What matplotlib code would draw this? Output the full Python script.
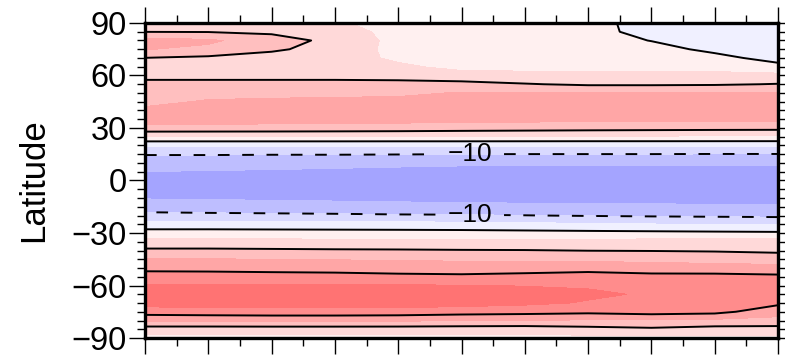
import numpy as np
import matplotlib
matplotlib.use("Agg")
import matplotlib.pyplot as plt
from matplotlib.colors import ListedColormap, BoundaryNorm
from matplotlib.ticker import MultipleLocator, NullFormatter

plt.rcParams["font.family"] = ["Liberation Sans", "DejaVu Sans"]

# grid: latitude nodes (deg) and along-axis nodes
lat_nodes = np.arange(-90, 91, 5)
x_nodes = np.arange(0, 11)

# field profiles, one per x node, latitude -90 .. 90 in 5-degree steps
profiles = [
    # x = 0
    [3.5, 7.5, 15.5, 22.5, 27, 28.5, 25.5, 22.5, 18.5, 15.5, 11, 6.5, 2.2,
     -3.0, -8.5, -12.5, -15.3, -17.5, -18, -15.05, -13, -9.7, -4.5, 5.05,
     13.5, 17, 16, 13.8, 12.5, 11.5, 8.5, 7.5, 9.9, 15.2, 17, 9.9, 7],
    # x = 1
    [3.5, 7.5, 15.5, 23, 27, 28.5, 25.5, 22.2, 18.5, 15.3, 11, 6.5, 2.2,
     -3.0, -8.8, -12.8, -15.5, -17.7, -18.2, -15.3, -13, -9.7, -4.5, 5.05,
     13.4, 17, 17.5, 15.5, 13.5, 11.5, 8.5, 7.5, 9, 14, 15.8, 9.8, 7],
    # x = 2
    [3.5, 7.5, 15.8, 23.2, 27.2, 28.5, 25.5, 22, 18.2, 14.9, 10.8, 6.4, 2.1,
     -3.1, -9.0, -13.0, -15.7, -17.8, -18.4, -15.6, -13.2, -9.8, -4.5, 5.05,
     13.3, 17, 17.5, 15.8, 13.8, 11.5, 8.5, 7.5, 8, 10.8, 12.5, 9, 7],
    # x = 3
    [3.5, 7.5, 15.8, 23.2, 27.2, 28.5, 25.3, 21.8, 18, 14.8, 10.6, 6.3, 2.0,
     -3.2, -9.2, -13.3, -15.9, -18.0, -18.6, -16.0, -13.4, -9.8, -4.4, 4.9,
     13.2, 16.8, 17.5, 16, 14, 11.5, 8.5, 7.5, 7.5, 8, 8.5, 7, 5.5],
    # x = 4
    [3.5, 7.5, 15.6, 23, 27.2, 28.5, 25.3, 21.2, 17.8, 14.5, 10.5, 6.2, 1.9,
     -3.3, -9.5, -13.6, -16.1, -18.3, -18.8, -16.5, -13.7, -9.9, -4.4, 4.8,
     13, 16.6, 17.5, 16.2, 14.2, 11.5, 8.2, 6, 4, 3.5, 3.5, 3.5, 3.5],
    # x = 5
    [3.5, 7.3, 15.2, 22.2, 27, 28.3, 25.2, 21, 17.5, 14.3, 10.3, 6.2, 1.8,
     -3.5, -9.6, -13.9, -16.2, -18.5, -19.0, -17.0, -14.0, -10.05, -4.3, 4.7,
     12.6, 16.4, 17.5, 17, 15.3, 11.5, 7, 3.5, 2.5, 2.5, 2.5, 2.5, 2.5],
    # x = 6
    [3.5, 7.2, 14.9, 21.8, 26, 27.2, 24.8, 21.5, 17.8, 14.2, 10.2, 6.3, 1.6,
     -3.9, -9.9, -14.1, -16.3, -18.7, -19.2, -17.2, -14.1, -10.1, -4.3, 4.6,
     12.3, 16.3, 17.5, 17.3, 15.5, 10.3, 6.5, 3.5, 2.5, 2.5, 2, 2, 2],
    # x = 7
    [3.5, 8.2, 14.5, 21.2, 24.6, 25.8, 24.5, 22, 18.3, 14, 9.9, 6.5, 1.4,
     -4.4, -10.3, -14.2, -16.4, -18.8, -19.3, -17.3, -14.1, -10.1, -4.3, 4.5,
     12, 16.2, 17.5, 17.4, 15.6, 9.3, 6, 3.5, 2.5, 2, 1.5, 1.5, 1.5],
    # x = 8
    [3.5, 9.2, 14, 22.4, 24, 24.5, 23.5, 21.5, 17.5, 13.5, 9.8, 6.8, 1.2,
     -4.8, -10.6, -14.3, -16.4, -18.9, -19.4, -17.4, -14.2, -10.1, -4.2, 4.4,
     11.8, 16.1, 17.5, 17.4, 15.6, 9.3, 6, 3.5, 2, 1.2, -0.1, -1.5, -1.8],
    # x = 9
    [3.5, 8, 14, 21.5, 22.8, 23.5, 23.3, 21.5, 17.3, 13, 9.6, 7, 1.0,
     -5.2, -10.8, -14.4, -16.5, -19.0, -19.5, -17.5, -14.2, -10.2, -4.2, 4.35,
     11.6, 16, 17.5, 17.5, 15.6, 9.5, 6.2, 3.5, 1, -0.8, -1.5, -1.8, -1.8],
    # x = 10
    [3.5, 8, 13.5, 17, 21, 23, 23, 21, 17, 12, 9.3, 7.5, 0.8,
     -5.5, -11, -14.5, -16.5, -19, -19.5, -17.5, -14.2, -10.2, -4.2, 4.3,
     11.5, 16, 17.5, 17.5, 15.5, 10.2, 6.5, 1.0, -1.2, -1.8, -2, -2, 0.3],
]

fill_levels = [-20, -15, -10, -5, 0, 5, 10, 15, 20, 25, 30]
fill_colors = ["#A4A4FF", "#BEBEFF", "#D9D9FF", "#F0F0FF",
               "#FFF0F0", "#FFD9D9", "#FFBFBF", "#FFA6A6", "#FF8C8C", "#FF7373"]
line_levels = [-10, 0, 10, 20]
label_levels = [-10]
yticks = [-90, -60, -30, 0, 30, 60, 90]


def signed(v):
    """Integer label with a typographic minus sign."""
    v = int(round(v))
    return f"\u2212{abs(v)}" if v < 0 else f"{v}"


Z = np.array(profiles).T
X, Y = np.meshgrid(x_nodes, lat_nodes)

fig = plt.figure(figsize=(7.85, 3.57), dpi=100)
ax = fig.add_axes([0.1847, 0.0532, 0.8064, 0.8824])

cmap = ListedColormap(fill_colors)
norm = BoundaryNorm(fill_levels, cmap.N)
ax.contourf(X, Y, Z, levels=fill_levels, cmap=cmap, norm=norm)

styles = [(0, (6, 6.5)) if lv < 0 else "solid" for lv in line_levels]
cs = ax.contour(X, Y, Z, levels=line_levels, colors="k",
                linewidths=1.4, linestyles=styles)
labels = ax.clabel(cs, levels=label_levels, fmt=signed, fontsize=19,
                   inline=True, inline_spacing=12,
                   manual=[(5.13, 15.0), (5.13, -19.5)])
for t in labels:
    t.set_rotation(0)

ax.set_xlim(0, 10)
ax.set_ylim(-90, 90)
ax.set_yticks(yticks)
ax.set_yticklabels([signed(t) for t in yticks], fontsize=23.5)
ax.yaxis.set_minor_locator(MultipleLocator(5))
ax.xaxis.set_major_locator(MultipleLocator(1))
ax.xaxis.set_minor_locator(MultipleLocator(0.5))
ax.xaxis.set_major_formatter(NullFormatter())

ax.tick_params(which="both", direction="out", top=True, right=True,
               labelbottom=False, labeltop=False, labelright=False)
ax.tick_params(which="major", length=11.5, width=1.0, pad=1.5)
ax.tick_params(which="minor", length=6, width=1.0)

for sp in ax.spines.values():
    sp.set_linewidth(2.4)

ax.set_ylabel("Latitude", fontsize=25)
ax.yaxis.set_label_coords(-0.15, 0.5)

fig.savefig("out.png", dpi=100)
